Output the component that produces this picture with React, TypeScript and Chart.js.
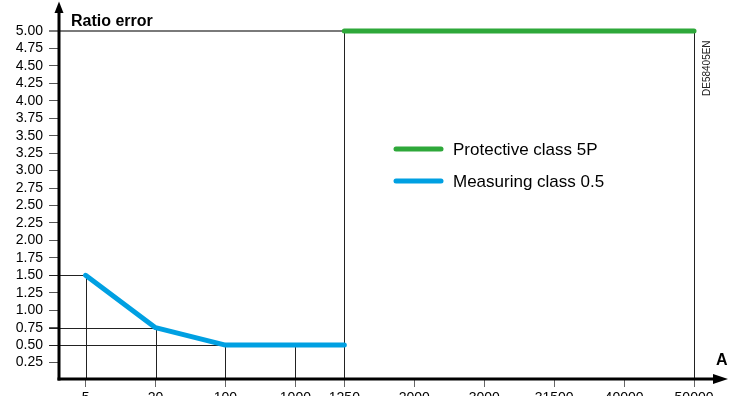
import { useEffect, useRef } from 'react';
import { Chart, registerables } from 'chart.js';

Chart.register(...registerables);

// ---- data ----
const xTickLabels = ['5', '20', '100', '1000', '1250', '2000', '3000', '31500', '40000', '50000'];
// schematic (non-proportional) slot of each tick label along the axis
const xTickSlots = [0, 1, 2, 3, 3.7, 4.7, 5.7, 6.7, 7.7, 8.7];

const measuringLabel = 'Measuring class 0.5';
const measuringX = ['5', '20', '100', '1000', '1250'];
const measuringY = [1.5, 0.75, 0.5, 0.5, 0.5];

const protectiveLabel = 'Protective class 5P';
const protectiveX = ['1250', '50000'];
const protectiveY = [5, 5];

const yMin = 0;
const yMax = 5;
const yStep = 0.25;

const yTitle = 'Ratio error';
const xTitle = 'A';
const docRef = 'DE58405EN';

const FONT = '"Liberation Sans", Arial, Helvetica, sans-serif';
const GREEN = '#2ea83a';
const BLUE = '#00a0e2';

const slotOf = (lab: string) => xTickSlots[xTickLabels.indexOf(lab)];

const decorPlugin = {
  id: 'decor',
  beforeDatasetsDraw(chart: any) {
    const { ctx, chartArea, scales } = chart;
    const xs = scales.x;
    const ys = scales.y;
    const axisY = chartArea.bottom - 1;
    const leftStart = chartArea.left - 10;
    ctx.save();
    chart.data.datasets.forEach((ds: any, di: number) => {
      ds.data.forEach((p: any) => {
        const px = Math.round(xs.getPixelForValue(p.x)) + 0.5;
        const py = Math.round(ys.getPixelForValue(p.y)) + 0.5;
        // vertical drop line
        ctx.strokeStyle = '#222';
        ctx.lineWidth = 1;
        ctx.beginPath();
        ctx.moveTo(px, py);
        ctx.lineTo(px, axisY);
        ctx.stroke();
        // horizontal guide to the y axis
        const isTop = p.y === yMax;
        ctx.strokeStyle = isTop ? '#7a7a7a' : '#222';
        ctx.lineWidth = isTop ? 2 : 1;
        ctx.beginPath();
        ctx.moveTo(leftStart, isTop ? py - 0.5 : py);
        ctx.lineTo(px, isTop ? py - 0.5 : py);
        ctx.stroke();
      });
    });
    ctx.restore();
  },
  afterDraw(chart: any) {
    const { ctx, chartArea } = chart;
    const ax = chartArea.left;
    const ay = chartArea.bottom - 1;
    ctx.save();
    ctx.fillStyle = '#000';
    ctx.strokeStyle = '#000';
    ctx.lineWidth = 3;
    // y axis with arrow
    ctx.beginPath();
    ctx.moveTo(ax, ay + 1.5);
    ctx.lineTo(ax, 10);
    ctx.stroke();
    ctx.beginPath();
    ctx.moveTo(ax, 1.5);
    ctx.lineTo(ax - 4.5, 13);
    ctx.lineTo(ax + 4.5, 13);
    ctx.closePath();
    ctx.fill();
    // x axis with arrow
    ctx.beginPath();
    ctx.moveTo(ax - 1.5, ay);
    ctx.lineTo(716, ay);
    ctx.stroke();
    ctx.beginPath();
    ctx.moveTo(728, ay);
    ctx.lineTo(713, ay - 5);
    ctx.lineTo(713, ay + 5);
    ctx.closePath();
    ctx.fill();

    // titles
    ctx.font = `bold 16px ${FONT}`;
    ctx.textBaseline = 'alphabetic';
    ctx.textAlign = 'left';
    ctx.fillText(yTitle, 71, 26);
    ctx.fillText(xTitle, 716, 365);

    // doc reference, rotated
    ctx.save();
    ctx.translate(710, 96);
    ctx.rotate(-Math.PI / 2);
    ctx.font = `10px ${FONT}`;
    ctx.fillStyle = '#222';
    ctx.textAlign = 'left';
    ctx.textBaseline = 'alphabetic';
    ctx.fillText(docRef, 0, 0);
    ctx.restore();

    // legend
    const items = [chart.data.datasets[1], chart.data.datasets[0]];
    items.forEach((ds: any, i: number) => {
      const y = 149 + i * 32;
      ctx.strokeStyle = ds.borderColor;
      ctx.lineWidth = 5;
      ctx.lineCap = 'round';
      ctx.beginPath();
      ctx.moveTo(396, y);
      ctx.lineTo(441, y);
      ctx.stroke();
      ctx.fillStyle = '#000';
      ctx.font = `17px ${FONT}`;
      ctx.textBaseline = 'middle';
      ctx.fillText(ds.label, 453, y + 1);
    });
    ctx.restore();
  },
};

export default function App() {
  const canvasRef = useRef<HTMLCanvasElement | null>(null);

  useEffect(() => {
    const canvas = canvasRef.current;
    if (!canvas) return;
    const chart = new Chart(canvas, {
      type: 'line',
      data: {
        datasets: [
          {
            label: measuringLabel,
            data: measuringX.map((x, i) => ({ x: slotOf(x), y: measuringY[i] })),
            borderColor: BLUE,
            backgroundColor: BLUE,
            borderWidth: 5,
            borderCapStyle: 'round',
            borderJoinStyle: 'round',
            pointRadius: 0,
            tension: 0,
            clip: false as any,
          },
          {
            label: protectiveLabel,
            data: protectiveX.map((x, i) => ({ x: slotOf(x), y: protectiveY[i] })),
            borderColor: GREEN,
            backgroundColor: GREEN,
            borderWidth: 5,
            borderCapStyle: 'round',
            pointRadius: 0,
            tension: 0,
            clip: false as any,
          },
        ],
      },
      options: {
        responsive: false,
        animation: false,
        events: [],
        layout: { padding: { top: 31, right: 15, left: 0, bottom: 0 } },
        plugins: { legend: { display: false }, tooltip: { enabled: false } },
        scales: {
          x: {
            type: 'linear',
            min: -0.38,
            max: 9.0,
            afterBuildTicks: (s: any) => {
              s.ticks = xTickSlots.map((v) => ({ value: v }));
            },
            afterFit: (s: any) => {
              s.height = 40;
            },
            border: { display: false },
            grid: { drawOnChartArea: false, tickLength: 7, color: '#666', lineWidth: 1 },
            ticks: {
              autoSkip: false,
              maxRotation: 0,
              padding: 3,
              color: '#000',
              font: { family: FONT, size: 14 },
              callback: (_v: any, i: number) => xTickLabels[i],
            },
          },
          y: {
            type: 'linear',
            min: yMin,
            max: yMax,
            afterFit: (s: any) => {
              s.width = 59;
            },
            border: { display: false },
            grid: {
              drawOnChartArea: false,
              tickLength: 10,
              lineWidth: 1,
              color: (c: any) => (c.tick && c.tick.value === 0 ? 'rgba(0,0,0,0)' : '#555'),
            },
            ticks: {
              stepSize: yStep,
              autoSkip: false,
              padding: 6,
              color: '#000',
              font: { family: FONT, size: 14 },
              callback: (v: any) => (Number(v) === 0 ? '' : Number(v).toFixed(2)),
            },
          },
        },
      },
      plugins: [decorPlugin],
    });
    return () => chart.destroy();
  }, []);

  return (
    <div style={{ position: 'absolute', left: 0, top: 0, width: 730, height: 396, overflow: 'hidden', background: '#fff' }}>
      <canvas ref={canvasRef} width={730} height={420} style={{ display: 'block', width: 730, height: 420 }} />
    </div>
  );
}
